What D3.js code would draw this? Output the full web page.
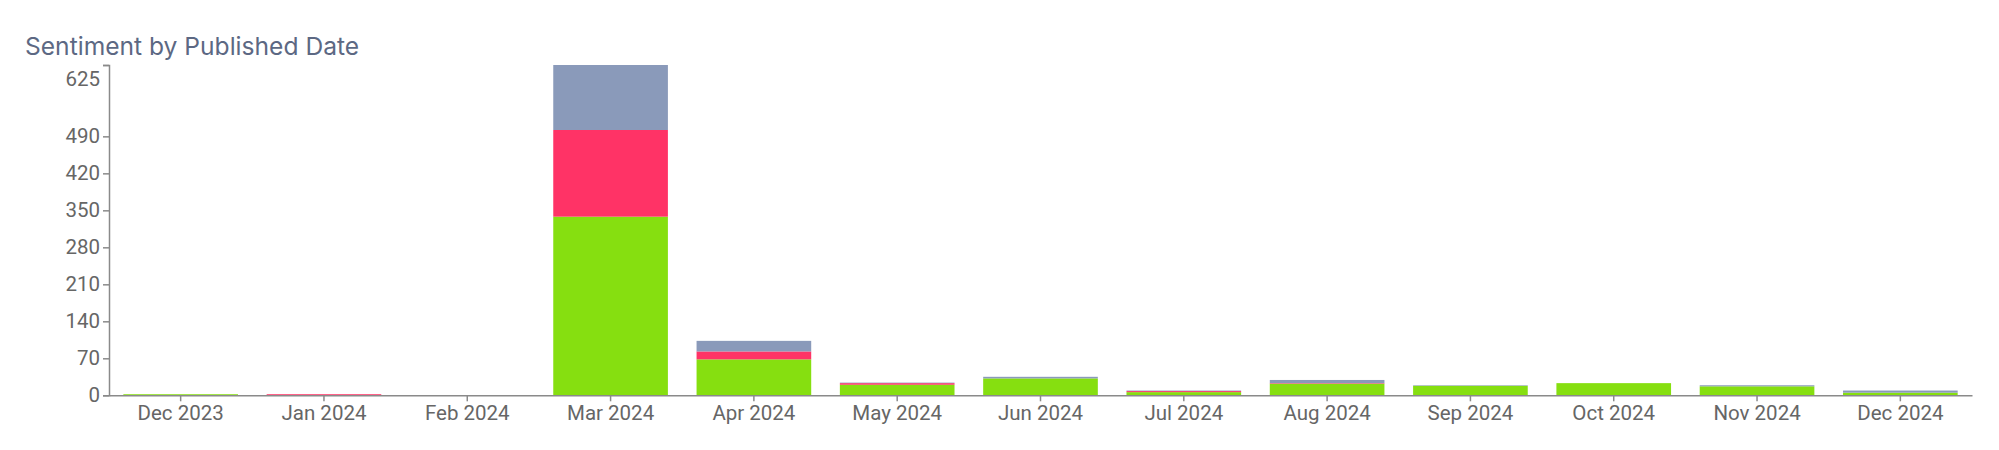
<!DOCTYPE html>
<html>
<head>
<meta charset="utf-8">
<script src="https://cdn.jsdelivr.net/npm/d3@7"></script>
<style>
  html, body { margin: 0; padding: 0; background: #fff; }
  svg { display: block; }
</style>
</head>
<body>
<svg id="chart" width="1999" height="450"></svg>
<script>
const months = ["Dec 2023","Jan 2024","Feb 2024","Mar 2024","Apr 2024","May 2024","Jun 2024","Jul 2024","Aug 2024","Sep 2024","Oct 2024","Nov 2024","Dec 2024"];
const positive = [2, 0, 0, 338, 68, 20, 32, 6, 22, 18, 23, 17, 5];
const negative = [0, 2, 0, 164, 15, 3, 0, 2, 1, 0, 0, 0, 0];
const neutral  = [0, 0, 0, 123, 20, 1, 3, 1, 6, 1, 0, 2, 4];
const yTicks = [0, 70, 140, 210, 280, 350, 420, 490, 625];
const seriesKeys = ["positive", "negative", "neutral"];
const seriesColors = ["#86df10", "#ff3366", "#8a9aba"];
const titleText = "Sentiment by Published Date";

const rows = months.map((m, i) => ({ month: m, positive: positive[i], negative: negative[i], neutral: neutral[i] }));

const svg = d3.select("#chart");
const x = d3.scaleBand().domain(months).range([109, 1972]).paddingInner(0.2).paddingOuter(0.1);
const y = d3.scaleLinear().domain([0, 625]).range([395.3, 65]);
const color = d3.scaleOrdinal().domain(seriesKeys).range(seriesColors);

const stacked = d3.stack().keys(seriesKeys)(rows);

svg.append("text")
  .attr("x", 25).attr("y", 55)
  .attr("font-family", "Inter, 'Noto Sans', sans-serif")
  .attr("font-size", 24.6)
  .attr("fill", "#5c6883")
  .text(titleText);

svg.append("g").selectAll("g").data(stacked).join("g")
  .attr("fill", d => color(d.key))
  .selectAll("rect").data(d => d).join("rect")
  .attr("x", d => x(d.data.month))
  .attr("width", x.bandwidth())
  .attr("y", d => y(d[1]))
  .attr("height", d => y(d[0]) - y(d[1]));

const axisColor = "#8a8a8a";
const labelColor = "#666";

const xAxis = svg.append("g")
  .attr("transform", `translate(0,${y(0)})`)
  .call(d3.axisBottom(x).tickSizeOuter(0).tickPadding(4));
const yAxis = svg.append("g")
  .attr("transform", `translate(109,0)`)
  .call(d3.axisLeft(y).tickValues(yTicks).tickFormat(d3.format("d")));

[xAxis, yAxis].forEach(g => {
  g.selectAll("path, line").attr("stroke", axisColor).attr("stroke-width", 1.5);
  g.selectAll("text").attr("fill", labelColor)
    .attr("font-family", "Roboto, sans-serif").attr("font-size", 20.5);
});
yAxis.selectAll(".tick").filter(d => d === 625).select("text").attr("dy", "1.0em");
</script>
</body>
</html>
